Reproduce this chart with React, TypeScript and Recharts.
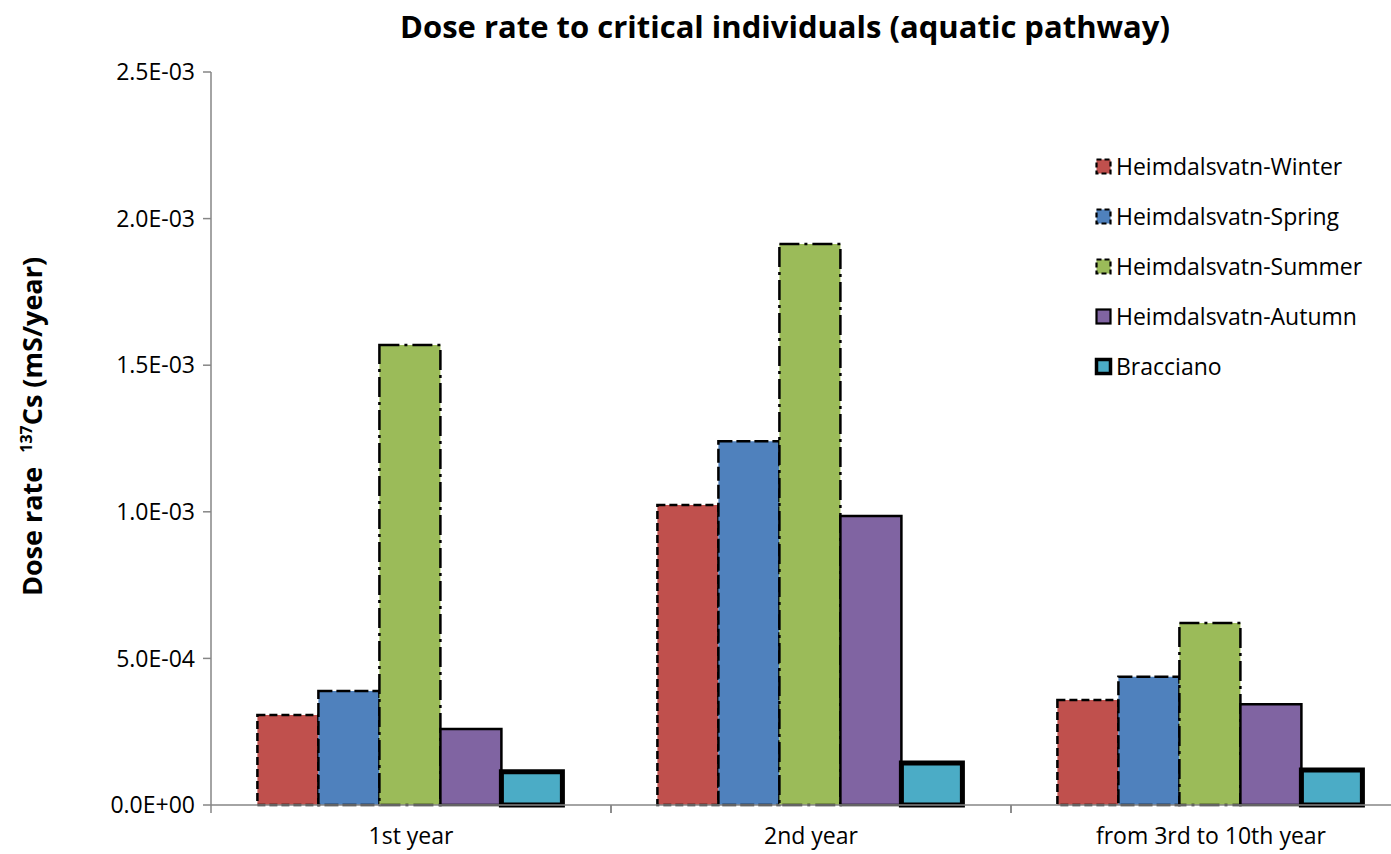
import { BarChart, Bar, XAxis, YAxis, Legend } from "recharts"

const categories = ["1st year", "2nd year", "from 3rd to 10th year"]
const winter = [3.07e-4, 1.023e-3, 3.58e-4]
const spring = [3.89e-4, 1.241e-3, 4.37e-4]
const summer = [1.569e-3, 1.913e-3, 6.21e-4]
const autumn = [2.59e-4, 9.86e-4, 3.44e-4]
const bracciano = [1.13e-4, 1.43e-4, 1.19e-4]
const yTicks = [0, 5e-4, 1e-3, 1.5e-3, 2e-3, 2.5e-3]

const data = categories.map((name, i) => ({
  name,
  winter: winter[i],
  spring: spring[i],
  summer: summer[i],
  autumn: autumn[i],
  bracciano: bracciano[i],
}))

const series = [
  { key: "winter", name: "Heimdalsvatn-Winter", fill: "#C0504D", dash: "8 4", width: 2.5 },
  { key: "spring", name: "Heimdalsvatn-Spring", fill: "#4F81BD", dash: "14 4", width: 2.5 },
  { key: "summer", name: "Heimdalsvatn-Summer", fill: "#9BBB59", dash: "20 5 3 5", width: 2.5 },
  { key: "autumn", name: "Heimdalsvatn-Autumn", fill: "#8064A2", dash: undefined, width: 2.5 },
  { key: "bracciano", name: "Bracciano", fill: "#4BACC6", dash: undefined, width: 5 },
]

const FONT = "'Open Sans', 'Noto Sans', sans-serif"
const AXIS = "#868686"

function fmt(v: number) {
  const [m, e] = v.toExponential(1).split("e")
  const sign = e[0] === "-" ? "-" : "+"
  const digits = e.replace(/[+-]/, "").padStart(2, "0")
  return `${m}E${sign}${digits}`
}

function XTick(props: any) {
  const { x, y, payload } = props
  const off = payload.offset || 0
  return (
    <g>
      <line x1={x - off} x2={x - off} y1={y} y2={y + 8} stroke={AXIS} strokeWidth={1.5} />
      <line x1={x + off} x2={x + off} y1={y} y2={y + 8} stroke={AXIS} strokeWidth={1.5} />
      <text x={x} y={y + 39} textAnchor="middle" fontSize={23} fontFamily={FONT} fill="#000">
        {payload.value}
      </text>
    </g>
  )
}

function YLabel(props: any) {
  const { viewBox } = props
  const cx = 42
  const cy = viewBox.y + viewBox.height / 2 - 12
  return (
    <text
      x={cx}
      y={cy}
      transform={`rotate(-90, ${cx}, ${cy})`}
      textAnchor="middle"
      fontFamily={FONT}
      fontWeight="bold"
      fontSize={27}
      fill="#000"
    >
      <tspan>Dose rate</tspan>
      <tspan fontSize={16} dx={14} dy={-10}>137</tspan>
      <tspan dy={10}>Cs (mS/year)</tspan>
    </text>
  )
}

function LegendBox() {
  return (
    <div style={{ fontFamily: FONT, fontSize: 23, color: "#000" }}>
      {series.map((s) => (
        <div key={s.key} style={{ display: "flex", alignItems: "center", height: 50 }}>
          <svg width={19} height={19} style={{ marginRight: 3 }}>
            <rect
              x={2.5}
              y={2.5}
              width={14}
              height={14}
              fill={s.fill}
              stroke="#000"
              strokeWidth={s.key === "bracciano" ? 3.5 : 2.2}
              strokeDasharray={s.dash ? "5 3" : undefined}
            />
          </svg>
          <span>{s.name}</span>
        </div>
      ))}
    </div>
  )
}

export default function App() {
  return (
    <div
      style={{
        position: "absolute",
        left: 0,
        top: 0,
        width: 1391,
        height: 854,
        overflow: "hidden",
        background: "#fff",
      }}
    >
      <div
        style={{
          position: "absolute",
          left: 785,
          top: 5,
          transform: "translateX(-50%)",
          whiteSpace: "nowrap",
          fontFamily: FONT,
          fontWeight: "bold",
          fontSize: 31,
          color: "#000",
        }}
      >
        Dose rate to critical individuals (aquatic pathway)
      </div>
      <BarChart
        width={1420}
        height={854}
        data={data}
        margin={{ top: 72, right: 9, left: 0, bottom: 9 }}
        barCategoryGap="11.6%"
        barGap={0}
      >
        <XAxis
          dataKey="name"
          height={40}
          tick={<XTick />}
          tickLine={false}
          tickSize={0}
          tickMargin={0}
          axisLine={{ stroke: AXIS, strokeWidth: 1.5 }}
          interval={0}
        />
        <YAxis
          width={211}
          domain={[0, 2.5e-3]}
          ticks={yTicks}
          tickFormatter={fmt}
          tick={{ fill: "#000", fontSize: 23, fontFamily: FONT }}
          tickSize={8}
          tickMargin={8}
          tickLine={{ stroke: AXIS, strokeWidth: 1.5 }}
          axisLine={{ stroke: AXIS, strokeWidth: 1.5 }}
          label={<YLabel />}
        />
        <Legend
          layout="vertical"
          verticalAlign="middle"
          align="center"
          content={<LegendBox />}
          wrapperStyle={{ left: 1094, top: 141, width: 300 }}
        />
        {series.map((s) => (
          <Bar
            key={s.key}
            dataKey={s.key}
            name={s.name}
            fill={s.fill}
            stroke="#000"
            strokeWidth={s.width}
            strokeDasharray={s.dash}
            isAnimationActive={false}
          />
        ))}
      </BarChart>
    </div>
  )
}
